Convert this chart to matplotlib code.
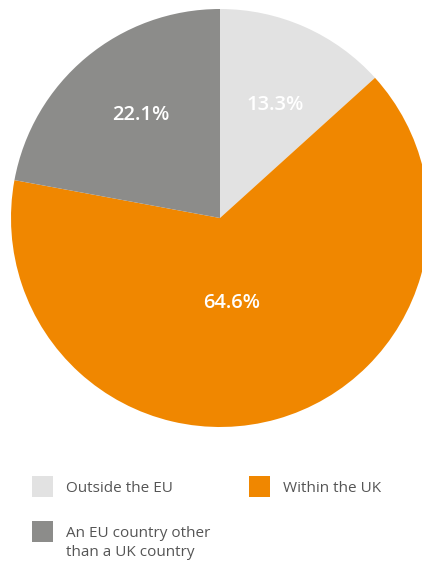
import numpy as np
import matplotlib
matplotlib.use("Agg")
import matplotlib.pyplot as plt
from matplotlib.patches import Rectangle

# Share of respondents by location
categories = ["Outside the EU", "Within the UK", "An EU country other\nthan a UK country"]
values = [13.3, 64.6, 22.1]
colors = ["#E2E2E2", "#F08700", "#8C8C8A"]
label_dist = [0.61, 0.40, 0.63]
label_frac = 0.465  # angular position of each label inside its wedge

W, H = 422, 561
fig = plt.figure(figsize=(W / 100, H / 100), dpi=100)
ax = fig.add_axes([0, 0, 1, 1])

cx, cy, r = 220, H - 218, 209
wedges, _ = ax.pie(values, colors=colors, startangle=90, counterclock=False,
                   center=(cx, cy), radius=r, frame=True,
                   wedgeprops=dict(linewidth=0))
ax.set_xlim(0, W)
ax.set_ylim(0, H)
ax.set_aspect("equal")
ax.axis("off")

for w, v, d in zip(wedges, values, label_dist):
    ang = np.deg2rad(w.theta1 + label_frac * (w.theta2 - w.theta1))
    x = cx + d * r * np.cos(ang)
    y = cy + d * r * np.sin(ang) - 2
    ax.text(x, y, f"{v:.1f}%", color="white", fontsize=14.5, fontweight="semibold",
            family="Open Sans", ha="center", va="center")

# Legend: two columns, long label on the second row
slots = [(32, 476), (249, 476), (32, 521)]
for (lx, ly), lab, col in zip(slots, categories, colors):
    ax.add_patch(Rectangle((lx, H - ly - 21), 21, 21, facecolor=col, edgecolor="none",
                           clip_on=False))
    ax.text(lx + 34, H - ly - 5, lab, color="#555555", fontsize=11,
            family="Open Sans", ha="left", va="top", linespacing=1.4)

fig.savefig("out.png", dpi=100)
